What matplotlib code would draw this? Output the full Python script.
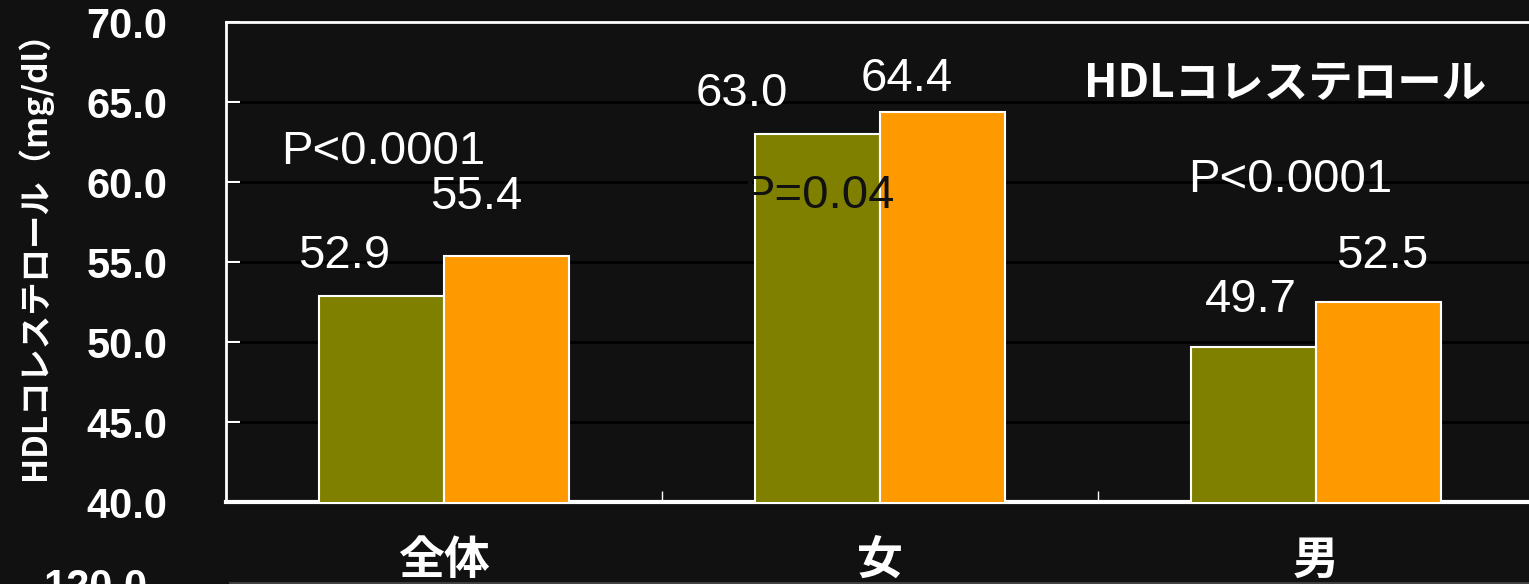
import matplotlib.pyplot as plt
from matplotlib.lines import Line2D

plt.rcParams['font.family'] = ['Noto Sans CJK JP', 'DejaVu Sans']

# data
groups = ["全体", "女", "男"]
before = [52.9, 63.0, 49.7]
after = [55.4, 64.4, 52.5]
p_values = ["P<0.0001", "P=0.04", "P<0.0001"]
yticks = [40.0, 45.0, 50.0, 55.0, 60.0, 65.0, 70.0]

# hand placed label offsets (pixels) relative to bar top centre
before_off = [(-37, 40), (-76, 40), (-3, 47)]
after_off = [(-30, 59), (-36, 33), (4, 46)]
# p-value positions relative to group centre (x in data units, y in data)
p_pos = [(-0.14, 61.9), (-0.14, 59.1), (-0.06, 60.1)]

bg = "#111111"
olive = "#808000"
orange = "#ff9900"
width = 0.287
latin = ["Liberation Sans", "DejaVu Sans"]

fig = plt.figure(figsize=(15.29, 5.84), dpi=100, facecolor=bg)
ax = fig.add_axes([226 / 1529, 82 / 584, 1308 / 1529, 480 / 584], facecolor=bg)

x = list(range(len(groups)))
xb = [i - width / 2 for i in x]
xa = [i + width / 2 for i in x]
bars_b = ax.bar(xb, before, width, color=olive, edgecolor="white",
                linewidth=1.5, zorder=3)
bars_a = ax.bar(xa, after, width, color=orange, edgecolor="white",
                linewidth=1.5, zorder=3)

ax.set_ylim(40, 70)
ax.set_xlim(-0.5, 2.5)
ax.set_yticks(yticks)
ax.set_yticklabels([f"{v:.1f}" for v in yticks], fontsize=30, fontweight="bold",
                   color="white", family=latin)
ax.tick_params(axis="y", direction="in", length=10, width=1.5, color="white",
               pad=42)
ax.set_xticks(x)
ax.set_xticklabels(groups, fontsize=33, fontweight="bold", color="white")
ax.tick_params(axis="x", which="major", length=0, pad=26)
ax.set_xticks([0.5, 1.5], minor=True)
ax.tick_params(axis="x", which="minor", direction="in", length=8, width=1,
               color="white")
ax.yaxis.grid(True, color="black", linewidth=2, zorder=1)
ax.set_axisbelow(True)

for side in ["top", "left"]:
    ax.spines[side].set_color("white")
    ax.spines[side].set_linewidth(2)
ax.spines["bottom"].set_color("white")
ax.spines["bottom"].set_linewidth(3)
ax.spines["right"].set_visible(False)

ax.set_ylabel("HDLコレステロール（mg/dl）", fontsize=24, fontweight="bold",
              color="white")
ax.yaxis.set_label_coords(-0.133, 0.53)

for bars, vals, offs in [(bars_b, before, before_off), (bars_a, after, after_off)]:
    for b, v, (dx, dy) in zip(bars, vals, offs):
        ax.annotate(f"{v:.1f}", xy=(b.get_x() + b.get_width() / 2, v),
                    xytext=(dx, dy), textcoords="offset pixels",
                    ha="center", va="center", fontsize=34, color="white",
                    family=latin, zorder=5)

p_colors = ["white", "#111111", "white"]
for i, (p, (dx, py), c) in enumerate(zip(p_values, p_pos, p_colors)):
    ax.text(i + dx, py, p, ha="center", va="center", fontsize=34, color=c,
            family=latin, zorder=5)

ax.text(1.93, 66.1, "HDLコレステロール", ha="center", va="center", fontsize=32,
        fontweight="bold", color="white", zorder=5)

# top of the next chart peeking in at the bottom
fig.text(95 / 1529, 16 / 584, "120.0", ha="center", va="top", fontsize=30,
         fontweight="bold", color="white", family=latin)
fig.add_artist(Line2D([230 / 1529, 1.0], [1.5 / 584, 1.5 / 584],
                      color="#444444", linewidth=2, transform=fig.transFigure))

fig.savefig("out.png", dpi=100, facecolor=bg)
